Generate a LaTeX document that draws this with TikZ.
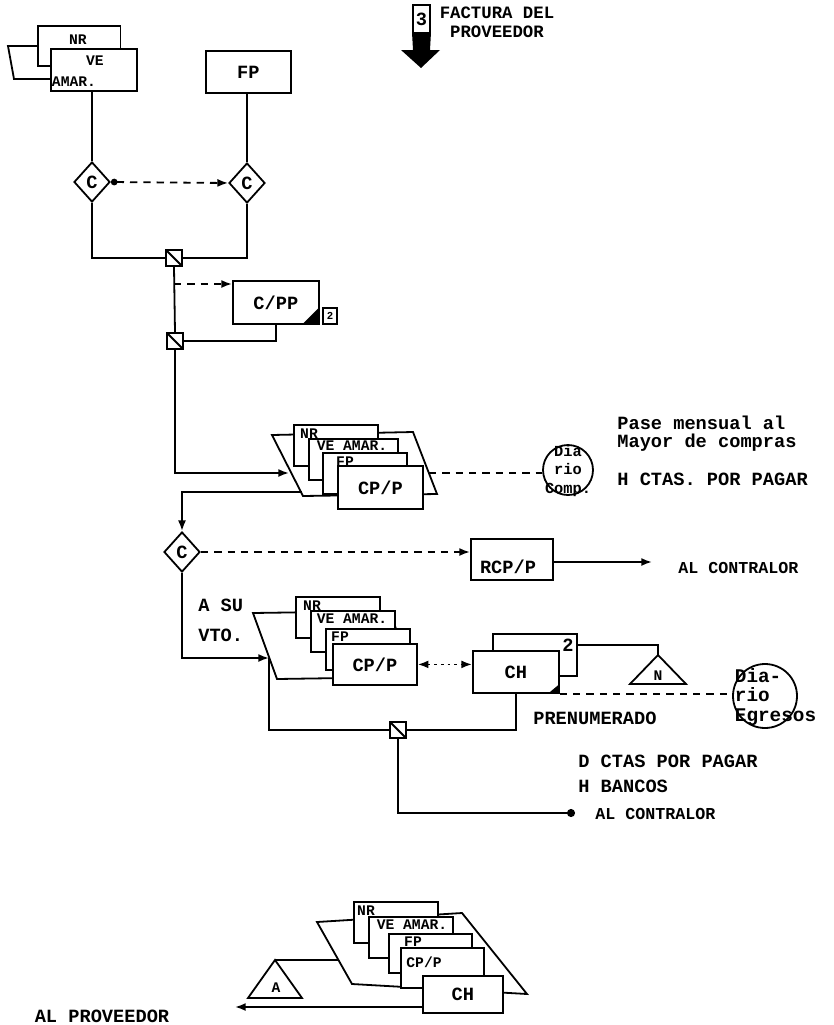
\documentclass[tikz,border=0pt]{standalone}
\usepackage{fontspec}
\setmainfont{Liberation Mono}
\usetikzlibrary{shapes.geometric,arrows.meta}
\begin{document}
\begin{tikzpicture}[x=0.75pt, y=-0.75pt, line width=1.35pt,
  font=\bfseries\fontsize{14}{15}\selectfont,
  >={Latex[length=8pt, width=6pt]},
  docbox/.style={draw, fill=white, anchor=north west, inner sep=0pt, minimum width=63pt, minimum height=31pt},
  dec/.style={draw, diamond, fill=white, minimum width=27pt, minimum height=30pt, inner sep=0pt},
  joint/.style={draw, fill=white, minimum size=12pt, inner sep=0pt,
    path picture={\draw (path picture bounding box.north west) -- (path picture bounding box.south east);}},
  journal/.style={draw, circle, inner sep=0pt},
  small/.style={inner sep=0pt, font=\bfseries\fontsize{11}{13}\selectfont},
  flow/.style={dash pattern=on 5.5pt off 4.5pt}]
\useasboundingbox (0,0) rectangle (833,1025);

% heading
\node[draw, minimum width=12.75pt, minimum height=21pt, inner sep=0pt] (num) at (421.5,19) {3};
\fill (num.south west) -- (num.south east) -- (430,50) -- (440,50) -- (421,68) -- (401,50) -- (413,50) -- cycle;
\node[align=center, font=\bfseries\fontsize{13}{14}\selectfont] (ttl) at (497,22) {FACTURA DEL\\PROVEEDOR};

% documents in
\draw[fill=white] (8,46) -- (112,46) -- (118,79) -- (14,79) -- cycle;
\node[docbox, minimum width=62pt, minimum height=30pt] (nr0) at (37,25) {};
\node[small] (nr0t) at (78,40) {NR};
\node[docbox, minimum width=64.5pt, minimum height=31.5pt] (ve0) at (50,48) {};
\node[small] (ve0t) at (95,61) {VE};
\node[small] (ve0b) at (74,82) {AMAR.};
\node[docbox, minimum width=63.75pt, minimum height=31.5pt] (fp0) at (205,50) {FP};

\node[dec] (c1) at (92,182) {C};
\node[dec] (c2) at (247,183) {C};
\draw (c1.north |- ve0.south) -- (c1.north);
\draw (c2.north |- fp0.south) -- (c2.north);
\draw[flow, {Circle[length=5pt]}->] (c1.east) -- (c2.west);

\node[joint] (j1) at (174,258) {};
\draw (c1.south) |- (j1.west);
\draw (c2.south) |- (j1.east);

\node[docbox, minimum width=64.5pt, minimum height=32.25pt] (cpp) at (232,280) {C/PP};
\fill (cpp.south east) -- ++(-18,0) -- ++(18,-18) -- cycle;
\node[draw, fill=white, minimum width=11pt, minimum height=12pt, inner sep=0pt, anchor=south west,
  font=\bfseries\fontsize{8}{9}\selectfont, xshift=1.5pt] (cppn) at (cpp.south east) {2};

\node[joint] (j2) at (175,341) {};
\draw (j1.south) -- (j2.north);
\coordinate (tap) at (174,284);
\draw[flow, ->] (tap) -- (tap -| cpp.west);
\draw (cpp.south) |- (j2.east);

% file of accounts payable
\draw[fill=white] (272,435) -- (413,432) -- (437,494) -- (303,496) -- cycle;
\node[docbox] (nr1) at (293,424) {};
\node[small] (nr1t) at (309,434) {NR};
\node[docbox, minimum width=66.75pt] (ve1) at (308,438) {};
\node[small] (ve1t) at (352,446) {VE AMAR.};
\node[docbox] (fp1) at (322,452) {};
\node[small] (fp1t) at (345,462) {FP};
\node[docbox, minimum width=63.75pt, minimum height=32.25pt] (cpp1) at (337,465) {CP/P};
\coordinate (in1) at (289,473);
\draw[->] (j2.south) |- (in1);

\node[journal, minimum size=37.5pt] (dcomp) at (568,470) {};
\node[align=center, inner sep=0pt, font=\bfseries\fontsize{11.5}{14}\selectfont] (dcompt) at (568,471) {Dia\\rio\\Comp.};
\coordinate (out1) at (429,473);
\draw[flow] (out1) -- (out1 -| dcomp.west);
\node[anchor=west, align=left, font=\bfseries\fontsize{14}{13.5}\selectfont] (pase) at (612,434) {Pase mensual al\\Mayor de compras};
\node[anchor=west] (hcta) at (612,479) {H CTAS. POR PAGAR};

% report
\node[dec] (c3) at (182,552) {C};
\coordinate (out2) at (302,492);
\draw[->] (out2) -| (c3.north);
\node[docbox, minimum width=61.5pt, minimum height=30.75pt] (rcp) at (470,538) {};
\node (rcpt) at (508,567) {RCP/P};
\draw[flow, ->] (c3.east) -- (c3.east -| rcp.west);
\coordinate (ctr1) at (652,562);
\draw[->] (rcp.east |- ctr1) -- (ctr1);
\node[anchor=west, font=\bfseries\fontsize{12.5}{14}\selectfont] (ctr1t) at (673,568) {AL CONTRALOR};

% payment at due date
\node[anchor=west] (asu) at (193,605) {A SU};
\node[anchor=west] (vto) at (193,635) {VTO.};
\draw[fill=white] (253,613) -- (390,611) -- (412,677) -- (277,679) -- cycle;
\node[docbox] (nr2) at (295,596) {};
\node[small] (nr2t) at (312,606) {NR};
\node[docbox] (ve2) at (310,610) {};
\node[small] (ve2t) at (352,619) {VE AMAR.};
\node[docbox] (fp2) at (325,628) {};
\node[small] (fp2t) at (340,637) {FP};
\node[docbox, minimum width=63pt, minimum height=30.75pt] (cpp2) at (332,643) {CP/P};
\coordinate (in2) at (269,658);
\draw[->] (c3.south) |- (in2);
\node[joint] (j3) at (398,730) {};
\draw (in2) |- (j3.west);

\node[docbox, minimum height=31.5pt] (chb) at (492,633) {};
\node (chbt) at (568,645) {2};
\node[docbox, minimum width=64.5pt, minimum height=31.5pt] (ch) at (472,650) {CH};
\fill (ch.south east) -- ++(-12,0) -- ++(12,-10) -- cycle;
\draw[<->, dash pattern=on 2pt off 3pt] (cpp2.east) -- (cpp2.east -| ch.west);

\coordinate (tapn) at (576,645);
\coordinate (napex) at (658,655);
\draw (tapn) -| (napex);
\draw (napex) -- (686,684) -- (630,684) -- cycle;
\node[small] (nt) at (658,676) {N};

\node[journal, minimum size=48pt] (degr) at (765,696) {};
\node[anchor=west, align=left, inner sep=0pt, font=\bfseries\fontsize{14.5}{14.5}\selectfont] (degrt) at (734,697) {Dia-\\rio\\Egresos};
\draw[flow] (ch.south east) -- (ch.south east -| degr.west);
\node[anchor=west] (pren) at (528,718) {PRENUMERADO};

\draw (ch.south) |- (j3.east);
\coordinate (ctr2) at (575,813);
\draw[-{Circle[length=6pt]}] (j3.south) |- (ctr2);
\node[anchor=west] (dcta) at (573,761) {D CTAS POR PAGAR};
\node[anchor=west] (hban) at (573,786) {H BANCOS};
\node[anchor=west, font=\bfseries\fontsize{12.5}{14}\selectfont] (ctr2t) at (590,814) {AL CONTRALOR};

% file of paid documents
\draw[fill=white] (317,922) -- (462,913) -- (527,994) -- (352,984) -- cycle;
\node[docbox] (nr3) at (353,901) {};
\node[small] (nr3t) at (366,911) {NR};
\node[docbox] (ve3) at (368,916) {};
\node[small] (ve3t) at (412,925) {VE AMAR.};
\node[docbox, minimum width=62.25pt, minimum height=29.25pt] (fp3) at (388,933) {};
\node[small] (fp3t) at (413,942) {FP};
\node[docbox, minimum width=62.25pt, minimum height=30pt] (cpp3) at (400,947) {};
\node[small] (cpp3t) at (424,962) {CP/P};
\node[docbox, minimum width=60pt, minimum height=27.75pt] (ch3) at (422,975) {CH};

\coordinate (aapex) at (275,960);
\draw (aapex) -- (302,998) -- (248,998) -- cycle;
\node[small] (atx) at (276,988) {A};
\coordinate (in3) at (339,960);
\draw (aapex) -- (in3);
\coordinate (out3) at (422,1007);
\coordinate (prov) at (235,1007);
\draw[->] (out3) -- (prov);
\node (provt) at (102,1016) {AL PROVEEDOR};
\end{tikzpicture}
\end{document}
